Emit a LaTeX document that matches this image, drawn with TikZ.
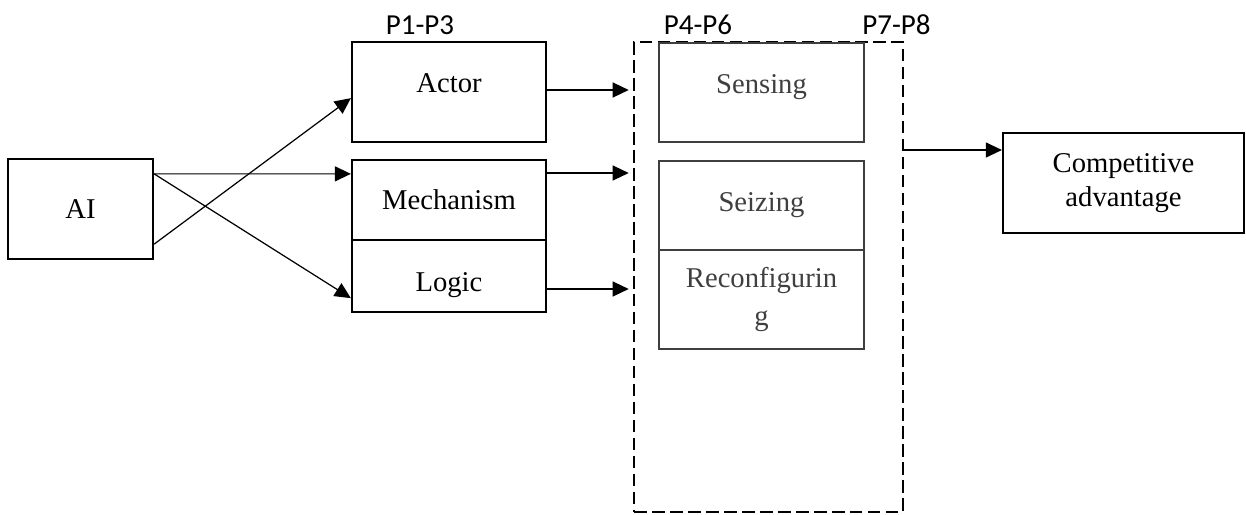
\documentclass[tikz,border=0pt]{standalone}
\usepackage{fontspec}
\setmainfont{Liberation Serif}
\newfontfamily\plabfont{Carlito}
\usepackage{xcolor}
\usetikzlibrary{calc,arrows.meta,positioning}
\definecolor{ink}{HTML}{000000}
\definecolor{dimink}{HTML}{3F3F3F}
\tikzset{
  blk/.style={draw=ink, line width=1.3pt, inner sep=0pt, align=center,
    font=\fontsize{16.3}{19}\selectfont},
  capbox/.style={draw=dimink, line width=1pt, inner sep=0pt, align=center,
    text=dimink, font=\fontsize{16.3}{19}\selectfont,
    minimum width=4.1cm},
  raised/.style={text depth=0.35cm},
  lowered/.style={text height=0.76cm},
  frame/.style={draw=ink, line width=1.5pt, dash pattern=on 0.25cm off 0.11cm,
    inner sep=0pt, minimum width=5.38cm, minimum height=9.4cm},
  arr/.style={-{Triangle[length=0.32cm,width=0.3cm]}, draw=ink, line width=0.7pt},
  plab/.style={font=\plabfont\fontsize{16.5}{19}\selectfont, anchor=base, inner sep=0pt}
}

\begin{document}
\begin{tikzpicture}[x=0.02cm, y=-0.02cm]
  \useasboundingbox (0,0) rectangle (1246,514);

  % left block
  \node[blk, minimum width=2.9cm, minimum height=2cm] (ai) at (80.5,209) {AI};
  \node[blk, raised, minimum width=3.88cm, minimum height=2cm] (actor) at (449,92) {Actor};
  \node[blk, minimum width=3.88cm, minimum height=1.6cm] (mech) at (449,200) {Mechanism};
  \node[blk, lowered, minimum width=3.88cm, minimum height=1.44cm] (logic) at (449,276) {Logic};

  % dynamic capabilities
  \node[frame] (dyn) at (768.5,277) {};
  \node[capbox, raised, minimum height=1.98cm] (sens) at (761.5,92.5) {Sensing};
  \node[capbox, minimum height=1.78cm] (seiz) at (761.5,205.5) {Seizing};
  \node[capbox, minimum height=1.98cm] (reconf) at (761.5,299.5) {Reconfigurin\\[3pt]g};

  % outcome
  \node[blk, minimum width=4.82cm, minimum height=2cm] (comp) at (1123.5,183) {Competitive\\advantage};

  % proposition labels
  \node[plab] (p13) at (420,34) {P1-P3};
  \node[plab] (p46) at (698,34) {P4-P6};
  \node[plab] (p78) at (896.5,34) {P7-P8};

  % AI to the three boxes
  \coordinate (aiup) at ($(ai.north east)+(0,16)$);
  \coordinate (aidn) at ($(ai.south east)+(0,-16)$);
  \draw[arr] (aiup) -- ($(mech.north west)+(0,15)$);
  \draw[arr] (aidn) -- ($(actor.south west)+(0,-45)$);
  \draw[arr] (aiup) -- ($(logic.south west)+(0,-15)$);

  % boxes to the frame
  \coordinate (oa) at ($(actor.east)+(0,-2)$);
  \coordinate (om) at ($(mech.east)+(0,-27)$);
  \coordinate (ol) at ($(logic.east)+(0,13)$);
  \draw[arr, shorten >=0.08cm] (oa) -- (oa -| dyn.west);
  \draw[arr, shorten >=0.08cm] (om) -- (om -| dyn.west);
  \draw[arr, shorten >=0.08cm] (ol) -- (ol -| dyn.west);

  % frame to outcome
  \coordinate (oc) at ($(comp.west)+(0,-33)$);
  \draw[arr] (oc -| dyn.east) -- (oc);
\end{tikzpicture}
\end{document}
